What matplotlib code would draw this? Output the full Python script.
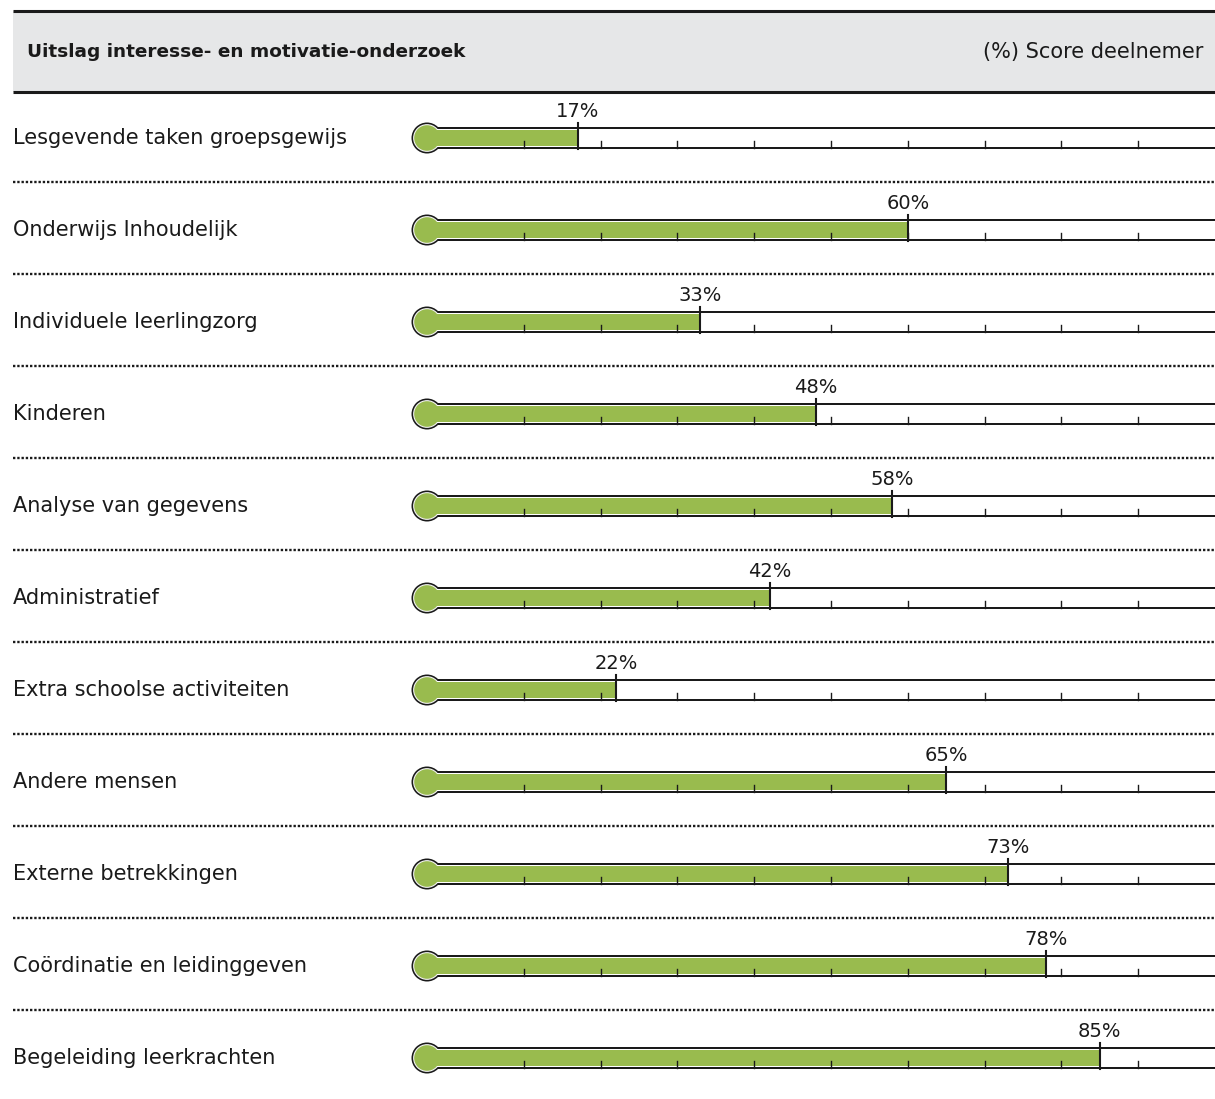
import matplotlib
matplotlib.use("Agg")
import matplotlib.pyplot as plt
from matplotlib.patches import Ellipse, Rectangle

plt.rcParams["font.family"] = ["DejaVu Sans"]

# data
categories = [
    "Lesgevende taken groepsgewijs",
    "Onderwijs Inhoudelijk",
    "Individuele leerlingzorg",
    "Kinderen",
    "Analyse van gegevens",
    "Administratief",
    "Extra schoolse activiteiten",
    "Andere mensen",
    "Externe betrekkingen",
    "Coördinatie en leidinggeven",
    "Begeleiding leerkrachten",
]
scores = [17, 60, 33, 48, 58, 42, 22, 65, 73, 78, 85]
tick_values = [10, 20, 30, 40, 50, 60, 70, 80, 90]
title = "Uitslag interesse- en motivatie-onderzoek"
unit_label = "(%) Score deelnemer"

W, H = 1215, 1099
fig = plt.figure(figsize=(W / 100, H / 100), dpi=100)
ax = fig.add_axes([0, 0, 1, 1])

# scale: 0% at x=447px, 100% at right edge; row pitch 92px, first row at 138px
px_per_pct = (W - 447) / 100.0
row_px = 92.0
ax.set_xlim(-447 / px_per_pct, 100)
ax.set_ylim((H - 138) / row_px, -138 / row_px)
ax.axis("off")

def dx(px):
    return px / px_per_pct

def dy(px):
    return px / row_px

green = "#99BB4E"
ink = "#1a1a1a"
bulb_x = dx(427 - 447)
left = dx(13 - 447)
ytr = ax.get_yaxis_transform()

# header band
ax.add_patch(Rectangle((left, dy(11 - 138)), 100 - left, dy(81),
                       facecolor="#E6E7E8", edgecolor="none", zorder=1))
for ypx in (11, 92):
    ax.plot([left, 100], [dy(ypx - 138)] * 2, color=ink, lw=2.2,
            solid_capstyle="butt", zorder=2)
ax.text(27 / W, dy(52 - 138), title, transform=ytr, fontsize=13.3,
        fontweight="bold", va="center", ha="left", color=ink)
ax.text(1203 / W, dy(52 - 138), unit_label, transform=ytr,
        fontsize=15, va="center", ha="right", color=ink)

for i, (cat, val) in enumerate(zip(categories, scores)):
    y = i
    ax.text(13 / W, y, cat, transform=ytr, fontsize=15,
            va="center", ha="left", color=ink)

    # thermometer: outline, light inner ring, green fill
    ax.add_patch(Ellipse((bulb_x, y), dx(31), dy(31), facecolor=ink,
                         edgecolor="none", zorder=3))
    ax.add_patch(Rectangle((bulb_x, y - dy(11)), 100 - bulb_x + 1, dy(22),
                           facecolor=ink, edgecolor="none", zorder=3))
    ax.add_patch(Ellipse((bulb_x, y), dx(27.8), dy(27.8), facecolor="#f2f2f2",
                         edgecolor="none", zorder=4))
    ax.add_patch(Rectangle((bulb_x, y - dy(9.3)), 100 - bulb_x + 1, dy(18.6),
                           facecolor="white", edgecolor="none", zorder=4))
    ax.add_patch(Ellipse((bulb_x, y), dx(25.6), dy(25.6), facecolor=green,
                         edgecolor="none", zorder=5))
    ax.add_patch(Rectangle((bulb_x, y - dy(8.3)), val - bulb_x, dy(16.6),
                           facecolor=green, edgecolor="none", zorder=5))

    # ticks
    for t in tick_values:
        ax.plot([t, t], [y + dy(10), y + dy(3)], color=ink, lw=1.0, zorder=6)
    # value marker
    ax.plot([val, val], [y + dy(11), y - dy(15.5)], color=ink, lw=1.5,
            zorder=7)
    ax.text(val, y - dy(17), f"{val}%", fontsize=14, ha="center",
            va="bottom", color=ink, zorder=7)

    # dotted separator
    if i < len(categories) - 1:
        ax.plot([left, 100], [y + 0.48] * 2, color=ink, lw=1.7,
                linestyle=(0, (1, 0.8)), zorder=2)

fig.savefig("out.png", dpi=100)
